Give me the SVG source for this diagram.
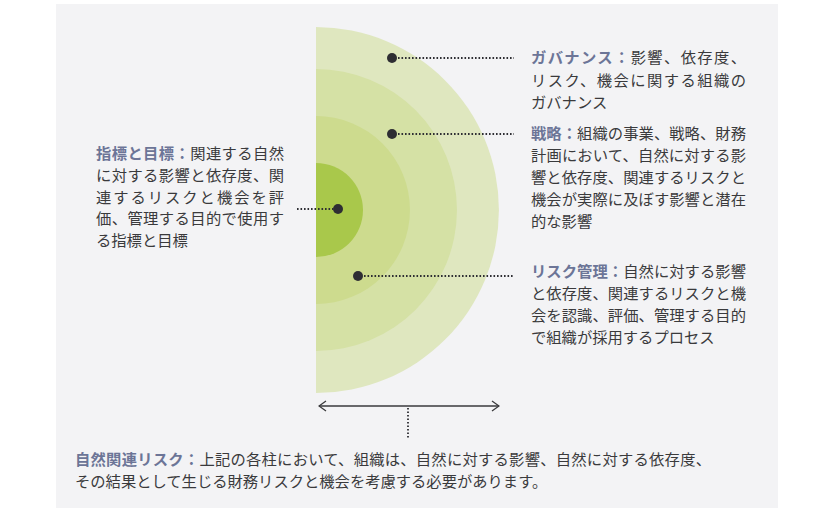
<svg xmlns="http://www.w3.org/2000/svg" width="824" height="508" viewBox="0 0 824 508">
<style>
.t{font-family:"Noto Sans CJK JP","Noto Sans",sans-serif;font-size:15.3px;fill:#3a3a3c}
.h{font-weight:bold;fill:#6c7597}
.dot{fill:#2e2e33}
.lead{stroke:#2e2e33;stroke-width:1.8;stroke-dasharray:1.6 1.9;fill:none}
.arr{stroke:#3a3a3c;stroke-width:1.3;fill:none}
</style>
<defs>
<marker id="chev" viewBox="0 0 10 12" refX="9" refY="6" markerWidth="10" markerHeight="12" markerUnits="userSpaceOnUse" orient="auto-start-reverse">
<path d="M2 1 L9 6 L2 11" fill="none" stroke="#3a3a3c" stroke-width="1.3"/>
</marker>
</defs>
<rect x="56" y="4" width="722" height="504" fill="#f3f3f5"/>
<g id="rings">
<path d="M316 27 A183 183 0 0 1 316 393 Z" fill="#dfe7bf"/>
<path d="M316 69 A141 141 0 0 1 316 351 Z" fill="#d5e1a5"/>
<path d="M316 116 A94 94 0 0 1 316 304 Z" fill="#cddb8e"/>
<path d="M316 163 A47 47 0 0 1 316 257 Z" fill="#a9c84b"/>
</g>
<g id="connectors">
<line class="lead" x1="398" y1="58" x2="514" y2="58"/>
<line class="lead" x1="398" y1="134" x2="514" y2="134"/>
<line class="lead" x1="297" y1="209" x2="333" y2="209"/>
<line class="lead" x1="364" y1="276" x2="514" y2="276"/>
<line class="arr" x1="319" y1="406" x2="499" y2="406" marker-start="url(#chev)" marker-end="url(#chev)"/>
<line class="lead" x1="408" y1="408" x2="408" y2="438"/>
</g>
<g id="node-governance">
<circle class="dot" cx="392" cy="58" r="5"/>
<text class="t" x="531" y="63" textLength="215" lengthAdjust="spacing"><tspan class="h">ガバナンス：</tspan>影響、依存度、</text>
<text class="t" x="531" y="86" textLength="215" lengthAdjust="spacing">リスク、機会に関する組織の</text>
<text class="t" x="531" y="108">ガバナンス</text>
</g>
<g id="node-strategy">
<circle class="dot" cx="392" cy="134" r="5"/>
<text class="t" x="531" y="139" textLength="215" lengthAdjust="spacing"><tspan class="h">戦略：</tspan>組織の事業、戦略、財務</text>
<text class="t" x="531" y="161" textLength="215" lengthAdjust="spacing">計画において、自然に対する影</text>
<text class="t" x="531" y="183" textLength="215" lengthAdjust="spacing">響と依存度、関連するリスクと</text>
<text class="t" x="531" y="205" textLength="215" lengthAdjust="spacing">機会が実際に及ぼす影響と潜在</text>
<text class="t" x="531" y="227">的な影響</text>
</g>
<g id="node-metrics">
<circle class="dot" cx="338" cy="209" r="5"/>
<text class="t" x="96" y="159" textLength="188" lengthAdjust="spacing"><tspan class="h">指標と目標：</tspan>関連する自然</text>
<text class="t" x="96" y="181" textLength="188" lengthAdjust="spacing">に対する影響と依存度、関</text>
<text class="t" x="96" y="203" textLength="188" lengthAdjust="spacing">連するリスクと機会を評</text>
<text class="t" x="96" y="224" textLength="188" lengthAdjust="spacing">価、管理する目的で使用す</text>
<text class="t" x="96" y="246">る指標と目標</text>
</g>
<g id="node-risk">
<circle class="dot" cx="358" cy="276" r="5"/>
<text class="t" x="531" y="277" textLength="215" lengthAdjust="spacing"><tspan class="h">リスク管理：</tspan>自然に対する影響</text>
<text class="t" x="531" y="299" textLength="215" lengthAdjust="spacing">と依存度、関連するリスクと機</text>
<text class="t" x="531" y="321" textLength="215" lengthAdjust="spacing">会を認識、評価、管理する目的</text>
<text class="t" x="531" y="343">で組織が採用するプロセス</text>
</g>
<g id="node-nature-risk">
<text class="t" x="75" y="465" textLength="636" lengthAdjust="spacing"><tspan class="h">自然関連リスク：</tspan>上記の各柱において、組織は、自然に対する影響、自然に対する依存度、</text>
<text class="t" x="75" y="487">その結果として生じる財務リスクと機会を考慮する必要があります。</text>
</g>
</svg>
